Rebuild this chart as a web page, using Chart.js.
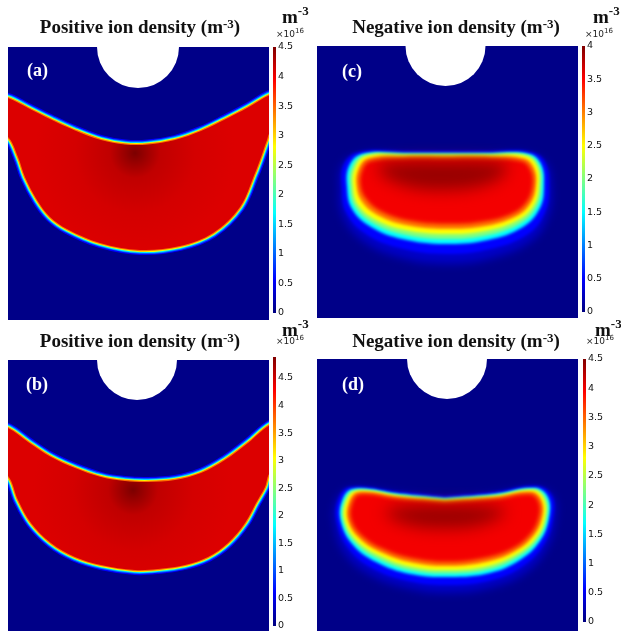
<!DOCTYPE html>
<html>
<head>
<meta charset="utf-8">
<script src="https://cdn.jsdelivr.net/npm/chart.js@4.4.1/dist/chart.umd.min.js"></script>
<style>
  body { margin: 0; background: #fff; }
  #fig { position: relative; width: 621px; height: 636px; overflow: hidden; }
  canvas { position: absolute; }
  .title { position: absolute; width: 300px; text-align: center; white-space: nowrap;
           font: bold 19px "Liberation Serif", "Times New Roman", serif; line-height: 22px; color: #111; }
  .title .sup { font-size: 13px; position: relative; top: -5px; }
  .unit { position: absolute; white-space: nowrap; font: bold 19px "Liberation Serif", serif; line-height: 20px; color: #111; }
  .unit .sup { font-size: 13px; position: relative; top: -8px; }
  .exp { position: absolute; white-space: nowrap; font: 9px "DejaVu Sans", sans-serif; line-height: 10px; color: #222; }
  .exp .sup { font-size: 7px; position: relative; top: -4px; }
</style>
</head>
<body>
<div id="fig"></div>
<script>
// panels in order (a) (b) (c) (d); x, y in mm, y measured down from the top edge
const panelLabels = ['(a)', '(b)', '(c)', '(d)'];
const panelTitles = ['Positive ion density', 'Positive ion density', 'Negative ion density', 'Negative ion density'];
const colorbarTicks = [0, 0.5, 1, 1.5, 2, 2.5, 3, 3.5, 4, 4.5];
const colorbarMax = [4.5, 4.88, 4, 4.5];

// electrode (white half disc at the top)
const electrodeX = [-0.05, -0.15, -0.2, -0.05];
const electrodeY = [0, 0, 0, 0];
const electrodeR = [4.1, 4.0, 4.0, 4.0];

// positive ions: boundary of the red zone
const aUpper = [[-14.5, 4.9], [-13.05, 5.1], [-11.05, 6.1], [-8.75, 7.25], [-6.35, 8.35], [-3.75, 9.3], [-1.35, 9.75],
  [0.95, 9.75], [3.65, 9.3], [6.25, 8.4], [8.65, 7.25], [10.95, 6.05], [13.15, 4.8], [14.5, 4.6]];
const aLower = [[-14.5, 8.6], [-13.05, 9.0], [-12.05, 11.0], [-11.35, 13.0], [-10.15, 15.3], [-8.85, 17.0], [-7.15, 18.2],
  [-3.85, 19.6], [0.15, 20.3], [4.15, 19.9], [7.45, 18.6], [10.15, 16.0], [11.65, 12.6], [12.15, 11.3], [12.85, 9.3],
  [13.15, 8.6], [14.5, 8.2]];
const bUpper = [[-14.5, 6.6], [-13.05, 6.8], [-11.05, 8.2], [-8.75, 9.7], [-6.35, 10.8], [-3.75, 11.7], [-1.35, 12.1],
  [0.95, 12.2], [3.65, 12.0], [6.25, 11.3], [8.65, 10.0], [10.95, 8.3], [13.15, 6.5], [14.5, 6.3]];
const bLower = [[-14.5, 11.2], [-13.05, 11.6], [-12.05, 14.0], [-10.75, 16.3], [-8.75, 18.3], [-6.35, 19.7], [-3.75, 20.5],
  [-0.35, 21.0], [1.95, 20.9], [4.65, 20.5], [6.95, 19.7], [8.95, 18.3], [10.65, 16.3], [11.75, 14.3], [12.65, 12.7],
  [13.15, 11.3], [14.5, 11.0]];
// darkest spot inside the red zone
const spotX = [-0.35, -0.55];
const spotY = [10.6, 13.0];

// negative ions: contour lines, outer to inner (halo, 0.5, 1.5, 2, 2.5, 3, 3.5, peak)
const cHalo = [[-0.25, 10.8], [4.25, 10.8], [8.35, 10.9], [9.9, 11.8], [10.4, 14.1], [10.1, 16.9], [8.5, 19.4], [4.5, 21.2],
  [-0.25, 21.8], [-5.0, 21.1], [-8.6, 19.4], [-10.5, 16.9], [-10.8, 14.2], [-10.5, 11.9], [-8.85, 10.9], [-4.25, 10.8]];
const cBlue = [[-0.25, 10.5], [4.25, 10.5], [8.35, 10.6], [9.75, 11.6], [10.15, 14.1], [9.75, 16.6], [8.05, 18.8], [4.25, 20.3],
  [-0.25, 20.8], [-4.75, 20.2], [-8.15, 18.8], [-10.15, 16.6], [-10.55, 14.2], [-10.35, 11.8], [-8.85, 10.6], [-4.25, 10.5]];
const cCyan = [[-0.25, 10.7], [4.25, 10.7], [8.15, 10.8], [9.35, 11.8], [9.65, 14.0], [9.25, 16.2], [7.55, 18.1], [4.05, 19.4],
  [-0.25, 19.8], [-4.55, 19.3], [-7.65, 18.1], [-9.55, 16.3], [-10.05, 14.1], [-9.85, 12.0], [-8.55, 10.8], [-4.25, 10.7]];
const cGreen = [[-0.25, 10.8], [4.25, 10.8], [8.0, 10.9], [9.15, 11.9], [9.4, 13.95], [8.95, 16.05], [7.3, 17.75], [3.9, 18.95],
  [-0.25, 19.3], [-4.4, 18.85], [-7.4, 17.75], [-9.25, 16.1], [-9.75, 14.05], [-9.55, 12.1], [-8.35, 10.9], [-4.25, 10.8]];
const cYellow = [[-0.25, 10.9], [4.25, 10.9], [7.85, 11.0], [8.95, 12.0], [9.15, 13.9], [8.65, 15.9], [7.05, 17.4], [3.75, 18.5],
  [-0.25, 18.8], [-4.25, 18.4], [-7.15, 17.4], [-8.95, 15.9], [-9.45, 14.0], [-9.25, 12.2], [-8.15, 11.0], [-4.25, 10.9]];
const cOrange = [[-0.25, 11.1], [4.25, 11.1], [7.65, 11.25], [8.65, 12.2], [8.85, 13.9], [8.3, 15.75], [6.75, 17.1], [3.6, 18.05],
  [-0.25, 18.3], [-4.0, 17.95], [-6.85, 17.0], [-8.55, 15.6], [-9.1, 13.95], [-8.9, 12.3], [-7.95, 11.25], [-4.25, 11.1]];
const cRed = [[-0.25, 11.3], [4.25, 11.3], [7.45, 11.5], [8.35, 12.4], [8.55, 13.9], [7.95, 15.6], [6.45, 16.8], [3.45, 17.6],
  [-0.25, 17.8], [-3.75, 17.5], [-6.55, 16.6], [-8.15, 15.3], [-8.75, 13.9], [-8.55, 12.4], [-7.75, 11.5], [-4.25, 11.3]];
const cCore = [[-0.45, 11.5], [3.5, 11.55], [6.0, 12.0], [4.5, 13.6], [-0.45, 14.4], [-5.0, 13.7], [-7.0, 12.1], [-4.2, 11.55]];

const dHalo = [[-0.25, 13.9], [4.75, 13.5], [8.95, 12.9], [10.6, 13.8], [10.8, 15.9], [10.0, 18.8], [7.9, 21.3], [4.6, 22.8],
  [0.25, 23.4], [-4.1, 22.9], [-7.9, 21.5], [-10.3, 19.4], [-11.3, 16.5], [-11.1, 14.2], [-9.75, 13.0], [-4.75, 13.5]];
const dBlue = [[-0.25, 13.7], [4.75, 13.3], [8.95, 12.7], [10.45, 13.7], [10.55, 15.9], [9.65, 18.5], [7.55, 20.7], [4.45, 22.1],
  [0.25, 22.6], [-3.95, 22.2], [-7.55, 20.9], [-9.85, 19.0], [-11.05, 16.4], [-10.95, 14.1], [-9.75, 12.8], [-4.75, 13.3]];
const dCyan = [[-0.25, 13.9], [4.75, 13.5], [8.75, 12.9], [10.05, 13.8], [10.15, 15.9], [9.25, 18.2], [7.25, 20.1], [4.25, 21.4],
  [0.25, 21.8], [-3.75, 21.5], [-7.15, 20.3], [-9.45, 18.6], [-10.65, 16.3], [-10.55, 14.2], [-9.45, 13.0], [-4.75, 13.5]];
const dGreen = [[-0.25, 14.0], [4.75, 13.6], [8.65, 13.0], [9.85, 13.9], [9.95, 15.9], [9.05, 18.05], [7.1, 19.8], [4.15, 21.05],
  [0.25, 21.45], [-3.65, 21.15], [-6.95, 20.0], [-9.25, 18.4], [-10.45, 16.25], [-10.35, 14.25], [-9.3, 13.1], [-4.75, 13.6]];
const dYellow = [[-0.25, 14.1], [4.75, 13.7], [8.55, 13.1], [9.65, 14.0], [9.75, 15.9], [8.85, 17.9], [6.95, 19.5], [4.05, 20.7],
  [0.25, 21.1], [-3.55, 20.8], [-6.75, 19.7], [-9.05, 18.2], [-10.25, 16.2], [-10.15, 14.3], [-9.15, 13.2], [-4.75, 13.7]];
const dOrange = [[-0.25, 14.25], [4.75, 13.85], [8.4, 13.3], [9.4, 14.15], [9.45, 15.9], [8.55, 17.75], [6.7, 19.25], [3.9, 20.3],
  [0.25, 20.7], [-3.4, 20.4], [-6.5, 19.4], [-8.75, 18.0], [-9.95, 16.15], [-9.85, 14.35], [-8.95, 13.35], [-4.75, 13.85]];
const dRed = [[-0.25, 14.4], [4.75, 14.0], [8.25, 13.5], [9.15, 14.3], [9.15, 15.9], [8.25, 17.6], [6.45, 19.0], [3.75, 19.9],
  [0.25, 20.3], [-3.25, 20.0], [-6.25, 19.1], [-8.45, 17.8], [-9.65, 16.1], [-9.55, 14.4], [-8.75, 13.5], [-4.75, 14.0]];
const dCore = [[-0.25, 14.6], [3.5, 14.7], [5.8, 15.2], [3.5, 16.5], [-0.25, 16.9], [-4.0, 16.5], [-6.2, 15.3], [-3.8, 14.7]];

// ---- layout (pixels) ----
const layout = [
  { field: [8, 47, 261, 273], bar: [273, 47, 3, 266], title: [140, 33], label: [19, 29], unit: [282, 23], exp: [276, 37] },
  { field: [8, 360, 261, 271], bar: [273, 357, 3, 269], title: [140, 347], label: [18, 30], unit: [282, 336], exp: [276, 344] },
  { field: [317, 46, 261, 272], bar: [582, 46, 3, 266], title: [456, 33], label: [25, 31], unit: [593, 23], exp: [585, 37] },
  { field: [317, 359, 261, 272], bar: [583, 359, 3, 263], title: [456, 347], label: [25, 31], unit: [595, 336], exp: [586, 344] }
];
const BG = '#000088';
const jetStops = [[0, '#000080'], [0.125, '#0000ff'], [0.375, '#00ffff'], [0.625, '#ffff00'], [0.875, '#ff0000'], [1, '#800000']];

// blur per dataset; must run before the filler so fills get it too
const blurPlugin = {
  id: 'fieldBlur',
  beforeDatasetDraw(chart, args) {
    const b = chart.data.datasets[args.index].blur;
    if (b) { chart.ctx.save(); chart.ctx.filter = 'blur(' + b + 'px)'; args.meta._blurOn = true; }
  },
  afterDatasetDraw(chart, args) {
    if (args.meta._blurOn) { chart.ctx.restore(); args.meta._blurOn = false; }
  }
};
const filler = Chart.registry.plugins.get('filler');
Chart.unregister(filler);
Chart.register(blurPlugin, filler);

const panelLabel = {
  id: 'panelLabel',
  afterDraw(chart, args, opts) {
    const { ctx, chartArea } = chart;
    ctx.save();
    ctx.font = 'bold 18px "Liberation Serif"';
    ctx.fillStyle = '#fff';
    ctx.fillText(opts.text, chartArea.left + opts.dx, chartArea.top + opts.dy);
    ctx.restore();
  }
};

const fig = document.getElementById('fig');
function addCanvas(box) {
  const cv = document.createElement('canvas');
  cv.width = box[2]; cv.height = box[3];
  cv.style.left = box[0] + 'px'; cv.style.top = box[1] + 'px';
  fig.appendChild(cv);
  return cv;
}
function addText(cls, html, left, top) {
  const d = document.createElement('div');
  d.className = cls; d.innerHTML = html;
  d.style.left = left + 'px'; d.style.top = top + 'px';
  fig.appendChild(d);
}
const pts = arr => arr.map(p => ({ x: p[0], y: p[1] }));
const closed = arr => pts(arr.concat([arr[0]]));

function electrode(i) {
  return {
    data: [{ x: electrodeX[i], y: electrodeY[i] }], showLine: false, order: 0,
    pointStyle: 'circle', pointBackgroundColor: '#fff', pointBorderWidth: 0,
    pointRadius: c => { const s = c.chart.scales.x; return s.getPixelForValue(electrodeR[i]) - s.getPixelForValue(0); }
  };
}

function positiveSets(i, upper, lower) {
  const poly = pts(upper.concat(lower.slice().reverse(), [upper[0]]));
  const widths = [10, 7.5, 5.6, 3.9, 2.3];
  const colors = ['#0000ff', '#0078ff', '#00f0ff', '#f0ff00', '#ff7000'];
  const sets = [electrode(i)];
  sets.push({
    data: poly, showLine: true, fill: 'shape', borderWidth: 0, pointRadius: 0, tension: 0.35, order: 1, blur: 0.6,
    backgroundColor: c => {
      const ch = c.chart;
      if (!ch.chartArea) return '#dc0000';
      const x = ch.scales.x.getPixelForValue(spotX[i]), y = ch.scales.y.getPixelForValue(spotY[i]);
      const g = ch.ctx.createRadialGradient(x, y, 0, x, y, 100);
      g.addColorStop(0, '#7c0000'); g.addColorStop(0.1, '#980000');
      g.addColorStop(0.25, '#c00000'); g.addColorStop(0.6, '#d40000'); g.addColorStop(1, '#dc0000');
      return g;
    }
  });
  widths.forEach((w, k) => sets.push({
    data: poly, showLine: true, fill: false, borderColor: colors[k], borderWidth: w, borderJoinStyle: 'round',
    pointRadius: 0, tension: 0.35, order: 10 - k, blur: 0.6
  }));
  return sets;
}

function negativeSets(i, contours) {
  const colors = ['#0000c8', '#0000ff', '#00ffff', '#80ff80', '#ffff00', '#ff8000', '#f40000', '#960000'];
  const blurs = [4, 1.8, 1.8, 1.8, 1.8, 1.8, 2, 8];
  const sets = [electrode(i)];
  contours.forEach((ct, k) => sets.push({
    data: closed(ct), showLine: true, fill: 'shape', backgroundColor: colors[k], borderWidth: 0,
    pointRadius: 0, tension: 0.4, order: 20 - k, blur: blurs[k]
  }));
  return sets;
}

function fieldChart(i, datasets) {
  const L = layout[i];
  const cv = addCanvas(L.field);
  cv.style.background = BG;
  new Chart(cv, {
    type: 'scatter',
    data: { datasets },
    options: {
      responsive: false, animation: false, events: [],
      layout: { padding: 0 },
      plugins: {
        legend: { display: false }, tooltip: { enabled: false }, colors: { enabled: false },
        panelLabel: { text: panelLabels[i], dx: L.label[0], dy: L.label[1] }
      },
      scales: {
        x: { display: false, min: -L.field[2] / 20, max: L.field[2] / 20 },
        y: { display: false, min: 0, max: L.field[3] / 10, reverse: true }
      }
    },
    plugins: [panelLabel]
  });
}

function jetGradient(chart) {
  const a = chart.chartArea;
  if (!a) return '#000080';
  const g = chart.ctx.createLinearGradient(0, a.bottom, 0, a.top);
  jetStops.forEach(s => g.addColorStop(s[0], s[1]));
  return g;
}

function colorbarChart(i) {
  const [l, t, w, h] = layout[i].bar;
  const pad = 8, axisW = 28;
  const max = colorbarMax[i];
  const cv = addCanvas([l, t - pad, w + axisW, h + 2 * pad]);
  new Chart(cv, {
    type: 'bar',
    data: { labels: [''], datasets: [{ data: [[0, max]], backgroundColor: c => jetGradient(c.chart),
      borderWidth: 0, barPercentage: 1, categoryPercentage: 1 }] },
    options: {
      responsive: false, animation: false, events: [],
      layout: { padding: { top: pad, bottom: pad, left: 0, right: 0 } },
      plugins: { legend: { display: false }, tooltip: { enabled: false } },
      scales: {
        x: { display: false },
        y: {
          position: 'right', min: 0, max,
          border: { display: false }, grid: { display: false, drawTicks: false },
          ticks: { padding: 2, color: '#111', font: { family: 'DejaVu Sans', size: 9.5 }, callback: v => String(v) },
          afterBuildTicks: s => { s.ticks = colorbarTicks.filter(v => v <= max + 1e-9).map(v => ({ value: v })); },
          afterFit: s => { s.width = axisW; }
        }
      }
    }
  });
}

fieldChart(0, positiveSets(0, aUpper, aLower));
fieldChart(1, positiveSets(1, bUpper, bLower));
fieldChart(2, negativeSets(2, [cHalo, cBlue, cCyan, cGreen, cYellow, cOrange, cRed, cCore]));
fieldChart(3, negativeSets(3, [dHalo, dBlue, dCyan, dGreen, dYellow, dOrange, dRed, dCore]));

layout.forEach((L, i) => {
  colorbarChart(i);
  addText('title', panelTitles[i] + ' (m<span class="sup">-3</span>)', L.title[0] - 150, L.title[1] - 17.4);
  addText('unit', 'm<span class="sup">-3</span>', L.unit[0], L.unit[1] - 16.4);
  addText('exp', '×10<span class="sup">16</span>', L.exp[0], L.exp[1] - 8.1);
});
</script>
</body>
</html>
